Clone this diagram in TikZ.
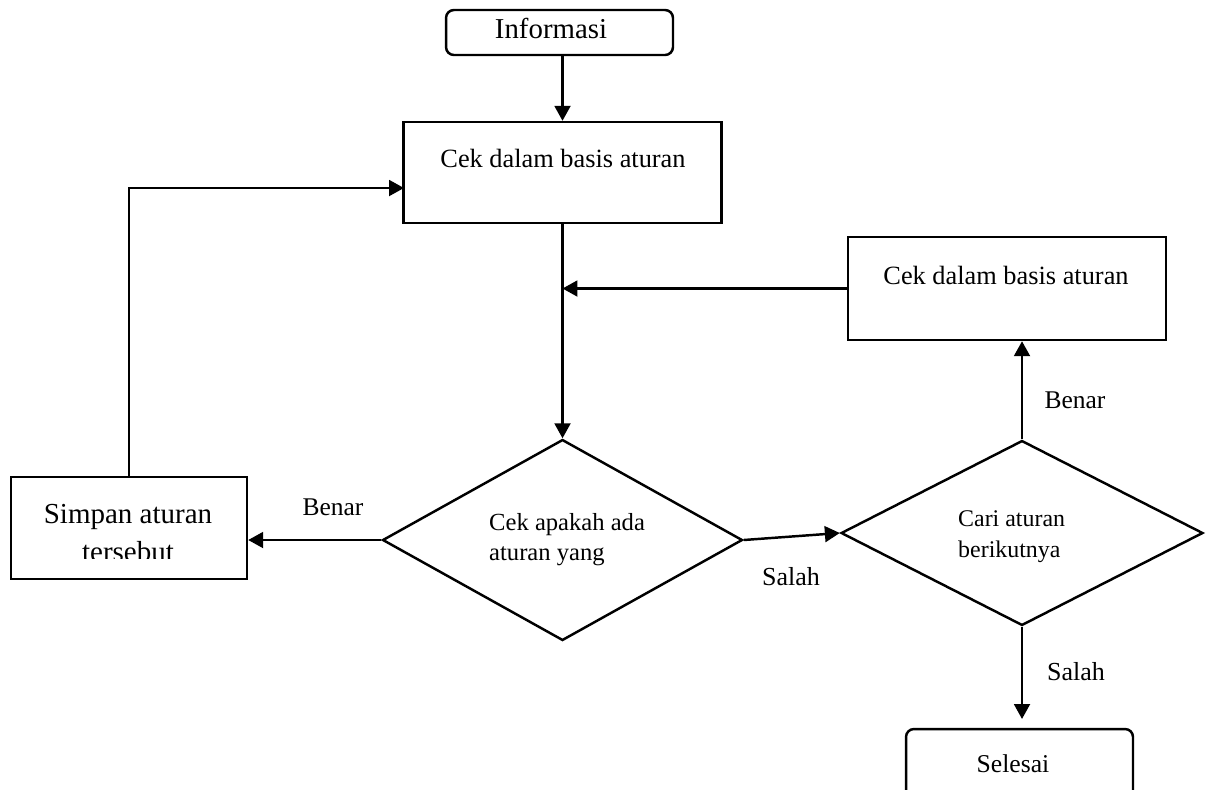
\documentclass[tikz,border=0pt]{standalone}
\usepackage{fontspec}
\setmainfont{Liberation Serif}
\usetikzlibrary{shapes.geometric,arrows.meta}
\begin{document}
\begin{tikzpicture}[x=0.02cm,y=-0.02cm,line width=1.4pt,
  arr/.style={-{Triangle[length=8.5pt,width=9pt]}},
  procbox/.style={draw,rectangle,inner sep=0pt},
  termbox/.style={draw,rectangle,rounded corners=4.5pt,inner sep=0pt},
  decbox/.style={draw,diamond,inner sep=0pt},
  lbl/.style={anchor=base,inner sep=0pt},
  lblw/.style={anchor=base west,inner sep=0pt}]
\clip (0,0) rectangle (1210,789);
% nodes
\node[termbox,minimum width=4.54cm,minimum height=0.9cm] (info) at (559.5,32.5) {};
\node[lbl,font=\fontsize{16.4}{19}\selectfont] (infot) at (551,38) {Informasi};
\node[procbox,minimum width=6.36cm,minimum height=2.02cm] (box1) at (562.5,172.5) {};
\node[lbl,font=\fontsize{15}{18}\selectfont] (box1t) at (563,167) {Cek dalam basis aturan};
\node[procbox,minimum width=6.36cm,minimum height=2.06cm] (box2) at (1007,288.5) {};
\node[lbl,font=\fontsize{15}{18}\selectfont] (box2t) at (1006,284) {Cek dalam basis aturan};
\node[decbox,minimum width=7.2cm,minimum height=4.02cm] (d1) at (562.5,540) {};
\node[lblw,font=\fontsize{14}{17}\selectfont] (d1a) at (488,530) {Cek apakah ada};
\node[lblw,font=\fontsize{14}{17}\selectfont] (d1b) at (488,560) {aturan yang};
\node[decbox,minimum width=7.24cm,minimum height=3.7cm] (d2) at (1022,533) {};
\node[lblw,font=\fontsize{13.6}{17}\selectfont] (d2a) at (957,526) {Cari aturan};
\node[lblw,font=\fontsize{13.6}{17}\selectfont] (d2b) at (957,557) {berikutnya};
\node[procbox,minimum width=4.72cm,minimum height=2.04cm] (simpan) at (129,528) {};
\node[lbl,font=\fontsize{16.5}{20}\selectfont] (simpant) at (128,523) {Simpan aturan};
\begin{scope}
\clip (11,477) rectangle (247,558);
\node[lbl,font=\fontsize{16.5}{20}\selectfont] (simpanu) at (128,561) {tersebut};
\end{scope}
\node[termbox,minimum width=4.54cm,minimum height=1.6cm] (sel) at (1019.5,769) {};
\node[lbl,font=\fontsize{14.6}{18}\selectfont] (selt) at (1013,772) {Selesai};
% edge labels
\node[lbl,font=\fontsize{14.5}{18}\selectfont] (benar1) at (333,515) {Benar};
\node[lbl,font=\fontsize{14.8}{18}\selectfont] (salah1) at (791,585) {Salah};
\node[lbl,font=\fontsize{14.5}{18}\selectfont] (benar2) at (1075,408) {Benar};
\node[lbl,font=\fontsize{14.8}{18}\selectfont] (salah2) at (1076,680) {Salah};
\coordinate (in1) at (404,188);
% connectors
\draw[arr] (box1.north |- info.south) -- (box1.north);
\draw[arr] (box1.south) -- (d1.north);
\draw[arr] (box2.west) -- (box2.west -| box1.south);
\draw[arr] (d1.west) -- (d1.west -| simpan.east);
\draw[arr] (simpan.north) |- (in1);
\draw[arr] (d1.east) -- (d2.west);
\draw[arr] (d2.north) -- (d2.north |- box2.south);
\draw[arr,shorten >=5pt] (d2.south) -- (d2.south |- sel.north);
\end{tikzpicture}
\end{document}
